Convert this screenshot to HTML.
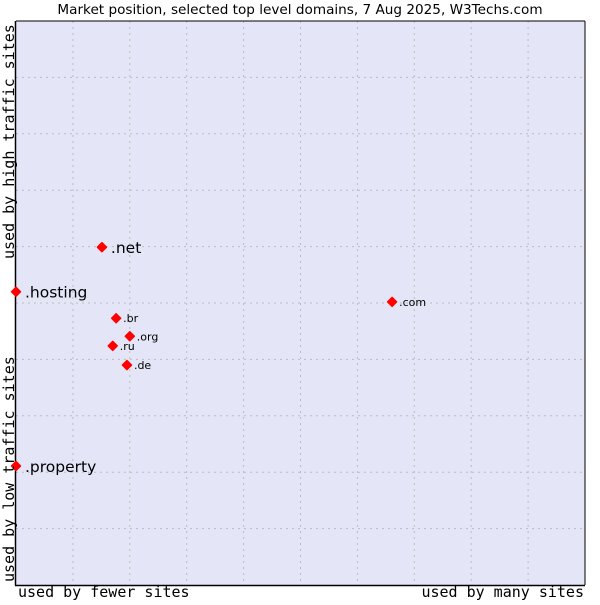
<!DOCTYPE html>
<html><head><meta charset="utf-8"><style>
body{margin:0;background:#fff;width:600px;height:600px;overflow:hidden}
</style></head><body>
<svg width="600" height="600" xmlns="http://www.w3.org/2000/svg">
<text x="300" y="14" text-anchor="middle" font-family="DejaVu Sans, sans-serif" font-size="13.6">Market position, selected top level domains, 7 Aug 2025, W3Techs.com</text>
<rect x="16" y="21" width="569" height="564" fill="#e4e6f8" stroke="none"/>
<g id="grid"></g>
<line x1="16" y1="21" x2="585" y2="21" stroke="#000"/>
<line x1="585" y1="21" x2="585" y2="585" stroke="#000"/>
<line x1="15.5" y1="21" x2="15.5" y2="585.5" stroke="#000" stroke-width="1.5"/>
<line x1="15" y1="585.5" x2="585" y2="585.5" stroke="#000" stroke-width="1.5"/>
<g id="points"></g>
<text x="18" y="597" font-family="DejaVu Sans Mono, monospace" font-size="15">used by fewer sites</text>
<text x="584" y="597" text-anchor="end" font-family="DejaVu Sans Mono, monospace" font-size="15">used by many sites</text>
<text transform="translate(14,259) rotate(-90)" font-family="DejaVu Sans Mono, monospace" font-size="15">used by high traffic sites</text>
<text transform="translate(14,582) rotate(-90)" font-family="DejaVu Sans Mono, monospace" font-size="15">used by low traffic sites</text>
</svg>
<script>
const domains=[".net",".hosting",".com",".br",".org",".ru",".de",".property"];
const xValues=[15.1,0,66.1,17.6,20.0,17.0,19.5,0];
const yValues=[59.9,52.0,50.2,47.3,44.1,42.4,39.0,21.1];
const bigLabel=[true,true,false,false,false,false,false,true];
const gridTicks=[10,20,30,40,50,60,70,80,90];
const L=16,R=585,T=21,B=585;
const sx=v=>L+v/100*(R-L), sy=v=>B-v/100*(B-T);
const NS="http://www.w3.org/2000/svg";
const grid=document.getElementById('grid');
gridTicks.forEach(t=>{
 const v=document.createElementNS(NS,'line');
 v.setAttribute('x1',sx(t));v.setAttribute('x2',sx(t));v.setAttribute('y1',T);v.setAttribute('y2',B);
 v.setAttribute('stroke','#bcbcbc');v.setAttribute('stroke-dasharray','2,4');
 
 
 grid.appendChild(v);
 const h=document.createElementNS(NS,'line');
 h.setAttribute('y1',sy(t));h.setAttribute('y2',sy(t));h.setAttribute('x1',L);h.setAttribute('x2',R);
 h.setAttribute('stroke','#bcbcbc');h.setAttribute('stroke-dasharray','2,4');
 
 
 grid.appendChild(h);
});
const pts=document.getElementById('points');
domains.forEach((d,i)=>{
 const x=sx(xValues[i]),y=sy(yValues[i]);
 const m=document.createElementNS(NS,'path');
 m.setAttribute('d',`M${x} ${y-4.5} L${x+4.5} ${y} L${x} ${y+4.5} L${x-4.5} ${y} Z`);
 m.setAttribute('fill','#ff0000');m.setAttribute('stroke','#ff0000');m.setAttribute('stroke-width','1.5');m.setAttribute('stroke-linejoin','round');
 
 
 pts.appendChild(m);
 const t=document.createElementNS(NS,'text');
 t.setAttribute('x',x+(bigLabel[i]?9:7));t.setAttribute('y',y+(bigLabel[i]?6:4));
 t.setAttribute('font-family','DejaVu Sans, sans-serif');t.setAttribute('font-size',bigLabel[i]?'15.5':'11');
 t.textContent=d;
 
 
 pts.appendChild(t);
});
</script>
</body></html>
